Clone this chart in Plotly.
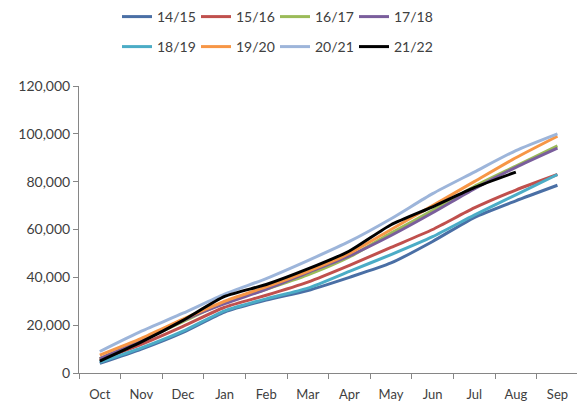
import plotly.graph_objects as go

months = ["Oct", "Nov", "Dec", "Jan", "Feb", "Mar", "Apr", "May", "Jun", "Jul", "Aug", "Sep"]

s1415 = [4000, 10000, 17000, 25500, 30500, 34500, 40000, 46000, 55000, 65000, 72000, 78500]
s1516 = [5500, 12000, 19500, 27500, 32500, 38000, 45000, 52500, 60000, 69000, 76500, 83000]
s1617 = [6000, 13500, 21500, 29500, 35000, 41000, 48500, 58500, 68000, 78000, 86500, 95000]
s1718 = [6000, 13500, 22000, 29000, 35000, 42000, 49000, 57500, 67000, 77000, 86000, 94000]
s1819 = [4500, 10500, 17500, 26000, 31000, 35500, 42500, 49500, 57000, 66000, 74500, 83000]
s1920 = [7500, 14500, 22500, 30000, 36000, 42500, 50000, 60000, 70000, 80000, 90000, 99000]
s2021 = [9000, 17500, 25000, 33000, 39500, 47000, 55000, 64500, 75000, 84000, 93000, 100000]
s2122 = [5000, 13000, 22000, 32000, 37000, 43500, 51000, 62000, 69500, 77500, 84000, None]

series = [
    ("14/15", s1415, "#4A6FA5", "legend"),
    ("15/16", s1516, "#C0504D", "legend"),
    ("16/17", s1617, "#9BBB59", "legend"),
    ("17/18", s1718, "#7A5E9C", "legend"),
    ("18/19", s1819, "#4BACC6", "legend2"),
    ("19/20", s1920, "#F79646", "legend2"),
    ("20/21", s2021, "#9DB5DA", "legend2"),
    ("21/22", s2122, "#000000", "legend2"),
]

FONT = "Lato, Roboto, sans-serif"

fig = go.Figure()
for name, vals, color, lg in series:
    fig.add_trace(go.Scatter(
        x=months, y=vals, name=name, mode="lines",
        line=dict(color=color, width=3, shape="spline", smoothing=0.6),
        legend=lg,
    ))

legend_common = dict(
    orientation="h", xanchor="left", yanchor="middle",
    font=dict(family=FONT, size=14, color="#404040"),
    bgcolor="rgba(0,0,0,0)", entrywidth=34, entrywidthmode="pixels",
    itemwidth=30,
)

fig.update_layout(
    width=577, height=404,
    margin=dict(l=79, r=0, t=86, b=31),
    paper_bgcolor="white", plot_bgcolor="white",
    showlegend=True,
    legend=dict(x=(117 - 79) / 498, y=1 + (86 - 17) / 287, **legend_common),
    legend2=dict(x=(117 - 79) / 498, y=1 + (86 - 47) / 287, **legend_common),
    xaxis=dict(
        type="category", range=[-0.5, 11.47],
        showline=True, linecolor="#868686", linewidth=1,
        ticks="outside", tickson="boundaries", ticklen=5, tickcolor="#868686",
        showgrid=False, zeroline=False, ticklabelstandoff=9,
        tickfont=dict(family=FONT, size=13, color="#404040"),
    ),
    yaxis=dict(
        range=[0, 120000], tickvals=[0, 20000, 40000, 60000, 80000, 100000, 120000],
        tickformat=",", showline=True, linecolor="#868686", linewidth=1,
        ticks="outside", ticklen=5, tickcolor="#868686",
        showgrid=False, zeroline=False,
        tickfont=dict(family=FONT, size=14, color="#404040"),
    ),
)

fig.write_html("out.html")
